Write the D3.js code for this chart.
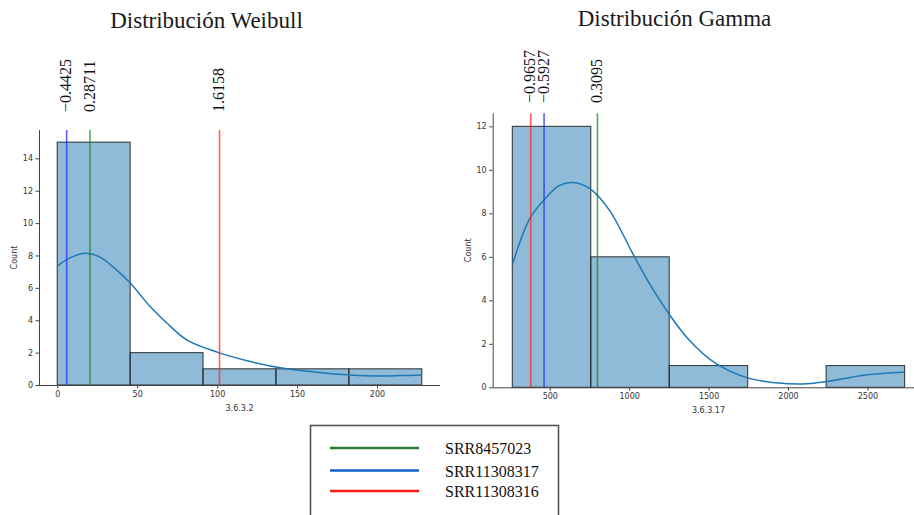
<!DOCTYPE html>
<html>
<head>
<meta charset="utf-8">
<script src="https://cdn.jsdelivr.net/npm/d3@7"></script>
<style>
  html, body { margin: 0; padding: 0; background: #fff; }
  svg { display: block; }
</style>
</head>
<body>
<svg id="chart" width="914" height="515"></svg>
<script>
// ---------- DATA ----------
// Weibull panel (variable 3.6.3.2)
const weibullTitle = "Distribución Weibull";
const weibullXLabel = "3.6.3.2";
const weibullBinEdges = [0, 45.6, 91.2, 136.8, 182.4, 228];
const weibullCounts = [15, 2, 1, 1, 1];
const weibullKdeX = [0, 8, 17.3, 26.7, 36, 45.5, 58, 68.5, 81, 100, 120.7, 141.5, 162.4, 183.3, 200, 214.6, 228];
const weibullKdeY = [7.34, 7.85, 8.13, 7.9, 7.2, 6.31, 4.86, 3.83, 2.79, 2.03, 1.45, 1.03, 0.79, 0.62, 0.56, 0.58, 0.62];
const weibullXTicks = [0, 50, 100, 150, 200];
const weibullYTicks = [0, 2, 4, 6, 8, 10, 12, 14];
const weibullMarkerValues = [5.9, 20.5, 101.5];          // blue, green, red
const weibullMarkerLabels = ["−0.4425", "0.28711", "1.6158"];
const weibullMarkerSamples = ["SRR11308317", "SRR8457023", "SRR11308316"];

// Gamma panel (variable 3.6.3.17)
const gammaTitle = "Distribución Gamma";
const gammaXLabel = "3.6.3.17";
const gammaBinEdges = [264, 758, 1252, 1746, 2240, 2734];
const gammaCounts = [12, 6, 1, 0, 1];
const gammaKdeX = [264, 370, 464, 559, 643, 748, 874, 1021, 1126, 1247, 1377, 1545, 1755, 1923, 2091, 2238, 2490, 2734];
const gammaKdeY = [5.63, 7.70, 8.62, 9.27, 9.42, 9.16, 8.16, 6.17, 4.79, 3.41, 2.18, 1.10, 0.41, 0.21, 0.15, 0.26, 0.57, 0.69];
const gammaXTicks = [500, 1000, 1500, 2000, 2500];
const gammaYTicks = [0, 2, 4, 6, 8, 10, 12];
const gammaMarkerValues = [380, 464, 800];               // red, blue, green
const gammaMarkerLabels = ["−0.9657", "−0.5927", "0.3095"];
const gammaMarkerSamples = ["SRR11308316", "SRR11308317", "SRR8457023"];

// Legend
const legendSamples = ["SRR8457023", "SRR11308317", "SRR11308316"];

// ---------- STYLE ----------
const sampleLineColor = { "SRR8457023": "#1a8a2a", "SRR11308317": "#2a2aff", "SRR11308316": "#ff2a2a" };
const legendLineColor = { "SRR8457023": "#2e7d32", "SRR11308317": "#1560c8", "SRR11308316": "#ff1a1a" };
const serif = "'Liberation Serif', 'Times New Roman', serif";
const sans = "'DejaVu Sans', sans-serif";

const svg = d3.select("#chart");

function panel(cfg) {
  const g = svg.append("g");
  const xmin = cfg.edges[0], xmax = cfg.edges[cfg.edges.length - 1];
  const pad = (xmax - xmin) * 0.05;
  const ymax = d3.max(cfg.counts) * 1.05;
  const x = d3.scaleLinear().domain([xmin - pad, xmax + pad]).range(cfg.xRange);
  const y = d3.scaleLinear().domain([0, ymax]).range(cfg.yRange);

  // bars
  const bins = cfg.counts.map((c, i) => ({ x0: cfg.edges[i], x1: cfg.edges[i + 1], c }));
  g.selectAll("rect.bar").data(bins.filter(b => b.c > 0)).join("rect")
    .attr("x", d => x(d.x0)).attr("width", d => x(d.x1) - x(d.x0))
    .attr("y", d => y(d.c)).attr("height", d => y(0) - y(d.c))
    .attr("fill", "#1f77b4").attr("fill-opacity", 0.5)
    .attr("stroke", "#222").attr("stroke-opacity", 0.85).attr("stroke-width", 1.1);

  // KDE
  const kde = cfg.kdeX.map((v, i) => [v, cfg.kdeY[i]]);
  g.append("path").datum(kde)
    .attr("d", d3.line().x(d => x(d[0])).y(d => y(d[1])).curve(d3.curveCatmullRom.alpha(0.5)))
    .attr("fill", "none").attr("stroke", "#1f77b4").attr("stroke-width", 1.5);

  // axes
  const xAxis = g.append("g").attr("transform", `translate(0,${cfg.yRange[0]})`)
    .call(d3.axisBottom(x).tickValues(cfg.xTicks).tickSize(3.5).tickPadding(2.5).tickFormat(d3.format("d")));
  const yAxis = g.append("g").attr("transform", `translate(${cfg.xRange[0]},0)`)
    .call(d3.axisLeft(y).tickValues(cfg.yTicks).tickSize(3.5).tickPadding(2.5).tickFormat(d3.format("d")));
  [xAxis, yAxis].forEach(a => {
    a.select(".domain").attr("stroke", "#444").attr("stroke-width", 1);
    a.selectAll(".tick line").attr("stroke", "#444");
    a.selectAll(".tick text").attr("fill", "#333").style("font-family", sans).style("font-size", "8px");
  });
  yAxis.select(".domain").attr("d", `M0.5,${cfg.yRange[0]}V${cfg.yRange[1]}`);
  xAxis.select(".domain").attr("d", `M${cfg.xRange[0]},0.5H${cfg.xRange[1]}`);

  g.append("text").attr("x", (cfg.xRange[0] + cfg.xRange[1]) / 2).attr("y", cfg.yRange[0] + 26)
    .attr("text-anchor", "middle").attr("fill", "#333")
    .style("font-family", sans).style("font-size", "8px").text(cfg.xLabel);
  const cy = (cfg.yRange[0] + cfg.yRange[1]) / 2;
  g.append("text").attr("transform", `translate(${cfg.xRange[0] - 22},${cy}) rotate(-90)`)
    .attr("text-anchor", "middle").attr("fill", "#333")
    .style("font-family", sans).style("font-size", "8px").text("Count");

  // marker lines
  cfg.markerValues.forEach((v, i) => {
    const s = cfg.markerSamples[i];
    g.append("line").attr("x1", x(v)).attr("x2", x(v))
      .attr("y1", cfg.yRange[0]).attr("y2", cfg.yRange[1])
      .attr("stroke", sampleLineColor[s]).attr("stroke-opacity", 0.75).attr("stroke-width", 1.6);
    g.append("text")
      .attr("transform", `translate(${x(v) + 4.5},${cfg.labelBottom}) rotate(-90)`)
      .attr("text-anchor", "start").attr("fill", "#111")
      .style("font-family", serif).style("font-size", "16px")
      .text(cfg.markerLabels[i]);
  });

  // title
  svg.append("text").attr("x", cfg.titleX).attr("y", cfg.titleY)
    .attr("text-anchor", "middle").attr("fill", "#1a1a1a")
    .style("font-family", serif).style("font-size", "23px").text(cfg.title);
}

panel({
  title: weibullTitle, titleX: 206.5, titleY: 28, xLabel: weibullXLabel,
  edges: weibullBinEdges, counts: weibullCounts, kdeX: weibullKdeX, kdeY: weibullKdeY,
  xTicks: weibullXTicks, yTicks: weibullYTicks,
  markerValues: weibullMarkerValues, markerLabels: weibullMarkerLabels, markerSamples: weibullMarkerSamples,
  xRange: [39, 440], yRange: [385, 130], labelBottom: 112
});
panel({
  title: gammaTitle, titleX: 674.5, titleY: 26, xLabel: gammaXLabel,
  edges: gammaBinEdges, counts: gammaCounts, kdeX: gammaKdeX, kdeY: gammaKdeY,
  xTicks: gammaXTicks, yTicks: gammaYTicks,
  markerValues: gammaMarkerValues, markerLabels: gammaMarkerLabels, markerSamples: gammaMarkerSamples,
  xRange: [492.7, 924.2], yRange: [387.3, 113.3], labelBottom: 103
});

// legend
const lg = svg.append("g");
lg.append("rect").attr("x", 310.5).attr("y", 425.5).attr("width", 248).attr("height", 100)
  .attr("fill", "#fff").attr("stroke", "#555").attr("stroke-width", 1.6);
const legendY = d3.scalePoint().domain(legendSamples).range([448, 491]);
legendSamples.forEach((s, i) => {
  const yy = i === 1 ? 470.5 : legendY(s);
  lg.append("line").attr("x1", 330).attr("x2", 419).attr("y1", yy).attr("y2", yy)
    .attr("stroke", legendLineColor[s]).attr("stroke-width", 2.5);
  lg.append("text").attr("x", 445).attr("y", yy + 6)
    .attr("fill", "#111").style("font-family", serif).style("font-size", "16px").text(s);
});
</script>
</body>
</html>
